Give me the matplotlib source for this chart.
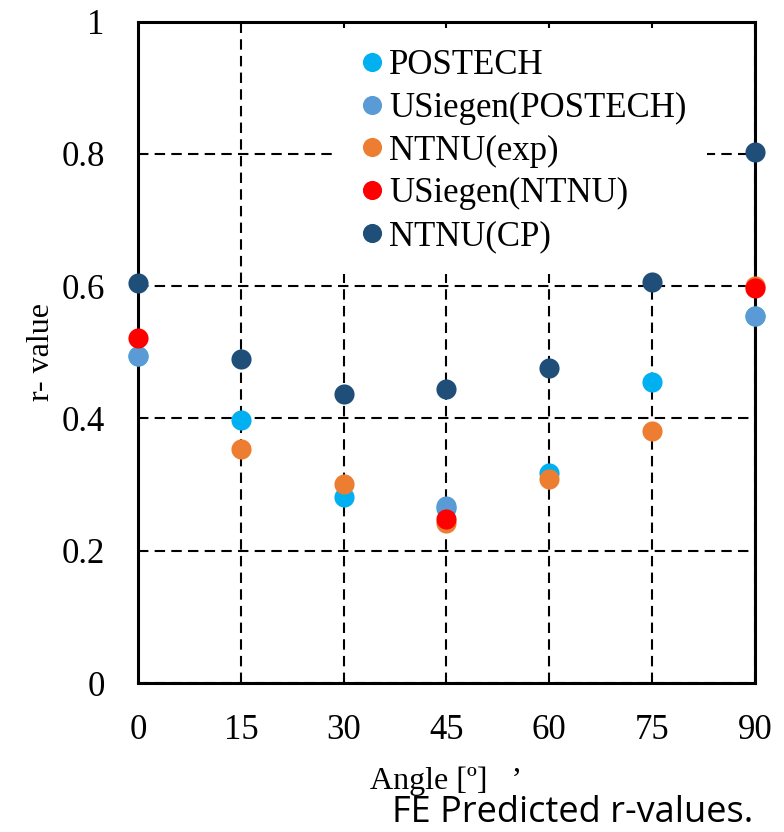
import matplotlib
matplotlib.use("Agg")
import matplotlib.pyplot as plt

# data
angles = [0, 15, 30, 45, 60, 75, 90]
postech = [0.495, 0.397, 0.281, 0.265, 0.318, 0.455, 0.555]
usiegen_postech_x = [0, 45, 90]
usiegen_postech = [0.495, 0.267, 0.555]
ntnu_exp_x = [15, 30, 45, 60, 75, 90]
ntnu_exp = [0.354, 0.301, 0.242, 0.309, 0.381, 0.600]
usiegen_ntnu_x = [0, 45, 90]
usiegen_ntnu = [0.522, 0.248, 0.598]
ntnu_cp = [0.605, 0.490, 0.437, 0.445, 0.477, 0.606, 0.803]

yticks = [0, 0.2, 0.4, 0.6, 0.8, 1]
ytick_labels = ["0", "0.2", "0.4", "0.6", "0.8", "1"]

plt.rcParams['font.family'] = ['Liberation Serif', 'DejaVu Serif']

fig = plt.figure(figsize=(7.84, 8.32), dpi=100)
ax = fig.add_axes([0.176, 0.179, 0.787, 0.795])

ms = 14.5
series = [
    (angles, postech, '#00B0F0', 'POSTECH'),
    (usiegen_postech_x, usiegen_postech, '#5B9BD5', 'USiegen(POSTECH)'),
    (ntnu_exp_x, ntnu_exp, '#ED7D31', 'NTNU(exp)'),
    (usiegen_ntnu_x, usiegen_ntnu, '#FF0000', 'USiegen(NTNU)'),
    (angles, ntnu_cp, '#1F4E79', 'NTNU(CP)'),
]
for i, (x, y, c, lab) in enumerate(series):
    ax.plot(x, y, 'o', color=c, markersize=ms, markeredgewidth=0,
            label=lab, clip_on=False, zorder=5 + i)

ax.set_xlim(0, 90)
ax.set_ylim(0, 1)
ax.set_xticks(angles)
ax.set_yticks(yticks)
ax.set_yticklabels(ytick_labels)
ax.tick_params(length=0, labelsize=25, pad=22)
ax.tick_params(axis='y', pad=24)

ax.grid(True, color='black', linewidth=1.5, linestyle=(0, (5, 3)))
ax.set_axisbelow(True)
for s in ax.spines.values():
    s.set_linewidth(2.2)
    s.set_zorder(4)

ax.set_xlabel("Angle [º]   ’", fontsize=23, labelpad=14)
ax.set_ylabel("r- value", fontsize=23, labelpad=4)

leg = ax.legend(loc='upper center', bbox_to_anchor=(0.62, 0.99), fontsize=25,
                frameon=True, framealpha=1, facecolor='white', edgecolor='none',
                fancybox=False, handletextpad=0.0, labelspacing=0.28,
                handlelength=1.0, borderpad=0.6, borderaxespad=0.0,
                markerscale=0.95)
leg.set_zorder(3)

fig.text(0.5, 0.012, "FE Predicted r-values.", fontsize=26,
         family=['Open Sans', 'DejaVu Sans'], ha='left', va='baseline')

fig.savefig("out.png", dpi=100)
